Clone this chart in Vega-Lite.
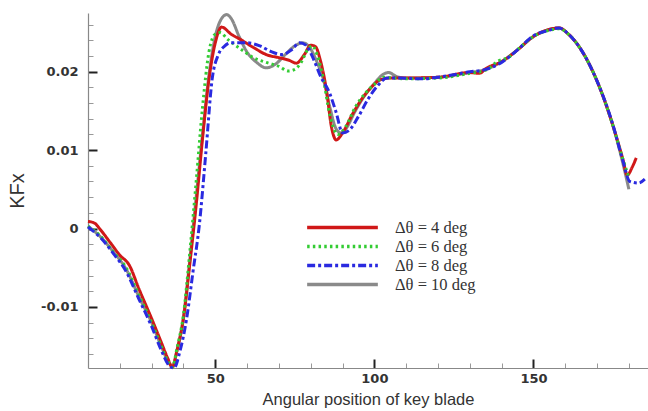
{
  "$schema": "https://vega.github.io/schema/vega-lite/v6.json",
  "width": 560,
  "height": 355,
  "autosize": {"type": "none"},
  "padding": {"left": 88, "top": 13, "right": 0, "bottom": 43},
  "config": {
    "view": {"stroke": null},
    "axis": {
      "grid": false,
      "domainColor": "#888888",
      "domainWidth": 1.2,
      "labelFont": "DejaVu Sans",
      "labelFontWeight": "bold",
      "labelFontSize": 13,
      "labelColor": "#333333",
      "labelOverlap": false,
      "titleFont": "Liberation Sans",
      "titleFontWeight": "normal",
      "titleColor": "#333333"
    }
  },
  "datasets": {
    "kfx": [
      {"case": "Δθ = 4 deg", "angle": 10, "kfx": 0.0009},
      {"case": "Δθ = 4 deg", "angle": 12, "kfx": 0.0007},
      {"case": "Δθ = 4 deg", "angle": 14, "kfx": -0.0002},
      {"case": "Δθ = 4 deg", "angle": 17, "kfx": -0.0018},
      {"case": "Δθ = 4 deg", "angle": 20, "kfx": -0.0034},
      {"case": "Δθ = 4 deg", "angle": 23, "kfx": -0.0047},
      {"case": "Δθ = 4 deg", "angle": 26, "kfx": -0.0077},
      {"case": "Δθ = 4 deg", "angle": 30, "kfx": -0.0115},
      {"case": "Δθ = 4 deg", "angle": 33, "kfx": -0.0145},
      {"case": "Δθ = 4 deg", "angle": 35, "kfx": -0.0165},
      {"case": "Δθ = 4 deg", "angle": 36.5, "kfx": -0.0177},
      {"case": "Δθ = 4 deg", "angle": 38, "kfx": -0.0155},
      {"case": "Δθ = 4 deg", "angle": 40, "kfx": -0.0115},
      {"case": "Δθ = 4 deg", "angle": 42, "kfx": -0.0045},
      {"case": "Δθ = 4 deg", "angle": 44, "kfx": 0.003},
      {"case": "Δθ = 4 deg", "angle": 46, "kfx": 0.0115},
      {"case": "Δθ = 4 deg", "angle": 48, "kfx": 0.019},
      {"case": "Δθ = 4 deg", "angle": 50, "kfx": 0.0237},
      {"case": "Δθ = 4 deg", "angle": 52, "kfx": 0.0257},
      {"case": "Δθ = 4 deg", "angle": 55, "kfx": 0.0248},
      {"case": "Δθ = 4 deg", "angle": 58, "kfx": 0.0241},
      {"case": "Δθ = 4 deg", "angle": 62, "kfx": 0.0231},
      {"case": "Δθ = 4 deg", "angle": 66, "kfx": 0.0222},
      {"case": "Δθ = 4 deg", "angle": 70, "kfx": 0.0218},
      {"case": "Δθ = 4 deg", "angle": 73, "kfx": 0.0215},
      {"case": "Δθ = 4 deg", "angle": 75.5, "kfx": 0.0211},
      {"case": "Δθ = 4 deg", "angle": 78, "kfx": 0.0222},
      {"case": "Δθ = 4 deg", "angle": 80, "kfx": 0.0234},
      {"case": "Δθ = 4 deg", "angle": 81.5, "kfx": 0.0232},
      {"case": "Δθ = 4 deg", "angle": 83, "kfx": 0.0215},
      {"case": "Δθ = 4 deg", "angle": 85, "kfx": 0.0175},
      {"case": "Δθ = 4 deg", "angle": 86.5, "kfx": 0.013},
      {"case": "Δθ = 4 deg", "angle": 88, "kfx": 0.0113},
      {"case": "Δθ = 4 deg", "angle": 90, "kfx": 0.0122},
      {"case": "Δθ = 4 deg", "angle": 93, "kfx": 0.0145},
      {"case": "Δθ = 4 deg", "angle": 96, "kfx": 0.0165},
      {"case": "Δθ = 4 deg", "angle": 99, "kfx": 0.018},
      {"case": "Δθ = 4 deg", "angle": 102, "kfx": 0.019},
      {"case": "Δθ = 4 deg", "angle": 105, "kfx": 0.0192},
      {"case": "Δθ = 4 deg", "angle": 110, "kfx": 0.0192},
      {"case": "Δθ = 4 deg", "angle": 120, "kfx": 0.0193},
      {"case": "Δθ = 4 deg", "angle": 130, "kfx": 0.0199},
      {"case": "Δθ = 4 deg", "angle": 133, "kfx": 0.0198},
      {"case": "Δθ = 4 deg", "angle": 135, "kfx": 0.0204},
      {"case": "Δθ = 4 deg", "angle": 140, "kfx": 0.0213},
      {"case": "Δθ = 4 deg", "angle": 145, "kfx": 0.0228},
      {"case": "Δθ = 4 deg", "angle": 150, "kfx": 0.0245},
      {"case": "Δθ = 4 deg", "angle": 155, "kfx": 0.0254},
      {"case": "Δθ = 4 deg", "angle": 158, "kfx": 0.0256},
      {"case": "Δθ = 4 deg", "angle": 161, "kfx": 0.0248},
      {"case": "Δθ = 4 deg", "angle": 165, "kfx": 0.0228},
      {"case": "Δθ = 4 deg", "angle": 170, "kfx": 0.0188},
      {"case": "Δθ = 4 deg", "angle": 175, "kfx": 0.0131},
      {"case": "Δθ = 4 deg", "angle": 178, "kfx": 0.009},
      {"case": "Δθ = 4 deg", "angle": 179.5, "kfx": 0.0068},
      {"case": "Δθ = 4 deg", "angle": 181, "kfx": 0.0078},
      {"case": "Δθ = 4 deg", "angle": 182.3, "kfx": 0.009},

      {"case": "Δθ = 6 deg", "angle": 10, "kfx": 0.0003},
      {"case": "Δθ = 6 deg", "angle": 14, "kfx": -0.001},
      {"case": "Δθ = 6 deg", "angle": 18, "kfx": -0.003},
      {"case": "Δθ = 6 deg", "angle": 22, "kfx": -0.005},
      {"case": "Δθ = 6 deg", "angle": 26, "kfx": -0.0085},
      {"case": "Δθ = 6 deg", "angle": 30, "kfx": -0.012},
      {"case": "Δθ = 6 deg", "angle": 33, "kfx": -0.015},
      {"case": "Δθ = 6 deg", "angle": 35.5, "kfx": -0.0172},
      {"case": "Δθ = 6 deg", "angle": 36.5, "kfx": -0.0177},
      {"case": "Δθ = 6 deg", "angle": 38, "kfx": -0.0152},
      {"case": "Δθ = 6 deg", "angle": 40, "kfx": -0.011},
      {"case": "Δθ = 6 deg", "angle": 42, "kfx": -0.003},
      {"case": "Δθ = 6 deg", "angle": 44, "kfx": 0.006},
      {"case": "Δθ = 6 deg", "angle": 46, "kfx": 0.0155},
      {"case": "Δθ = 6 deg", "angle": 48, "kfx": 0.0225},
      {"case": "Δθ = 6 deg", "angle": 50, "kfx": 0.0248},
      {"case": "Δθ = 6 deg", "angle": 51.5, "kfx": 0.025},
      {"case": "Δθ = 6 deg", "angle": 54, "kfx": 0.0241},
      {"case": "Δθ = 6 deg", "angle": 58, "kfx": 0.0229},
      {"case": "Δθ = 6 deg", "angle": 62, "kfx": 0.0218},
      {"case": "Δθ = 6 deg", "angle": 66, "kfx": 0.0212},
      {"case": "Δθ = 6 deg", "angle": 70, "kfx": 0.0207},
      {"case": "Δθ = 6 deg", "angle": 73, "kfx": 0.0201},
      {"case": "Δθ = 6 deg", "angle": 75, "kfx": 0.0203},
      {"case": "Δθ = 6 deg", "angle": 77, "kfx": 0.0212},
      {"case": "Δθ = 6 deg", "angle": 79, "kfx": 0.0228},
      {"case": "Δθ = 6 deg", "angle": 80.5, "kfx": 0.0233},
      {"case": "Δθ = 6 deg", "angle": 82, "kfx": 0.0222},
      {"case": "Δθ = 6 deg", "angle": 84, "kfx": 0.019},
      {"case": "Δθ = 6 deg", "angle": 86, "kfx": 0.0145},
      {"case": "Δθ = 6 deg", "angle": 88.5, "kfx": 0.012},
      {"case": "Δθ = 6 deg", "angle": 91, "kfx": 0.013},
      {"case": "Δθ = 6 deg", "angle": 94, "kfx": 0.0155},
      {"case": "Δθ = 6 deg", "angle": 97, "kfx": 0.0172},
      {"case": "Δθ = 6 deg", "angle": 100, "kfx": 0.0184},
      {"case": "Δθ = 6 deg", "angle": 103, "kfx": 0.0193},
      {"case": "Δθ = 6 deg", "angle": 106, "kfx": 0.0192},
      {"case": "Δθ = 6 deg", "angle": 110, "kfx": 0.0191},
      {"case": "Δθ = 6 deg", "angle": 120, "kfx": 0.0192},
      {"case": "Δθ = 6 deg", "angle": 130, "kfx": 0.0198},
      {"case": "Δθ = 6 deg", "angle": 135, "kfx": 0.0202},
      {"case": "Δθ = 6 deg", "angle": 139, "kfx": 0.0214},
      {"case": "Δθ = 6 deg", "angle": 142, "kfx": 0.0218},
      {"case": "Δθ = 6 deg", "angle": 146, "kfx": 0.0232},
      {"case": "Δθ = 6 deg", "angle": 150, "kfx": 0.0245},
      {"case": "Δθ = 6 deg", "angle": 155, "kfx": 0.0253},
      {"case": "Δθ = 6 deg", "angle": 158, "kfx": 0.0255},
      {"case": "Δθ = 6 deg", "angle": 161, "kfx": 0.0248},
      {"case": "Δθ = 6 deg", "angle": 165, "kfx": 0.0228},
      {"case": "Δθ = 6 deg", "angle": 170, "kfx": 0.0188},
      {"case": "Δθ = 6 deg", "angle": 175, "kfx": 0.0131},
      {"case": "Δθ = 6 deg", "angle": 178, "kfx": 0.009},
      {"case": "Δθ = 6 deg", "angle": 180, "kfx": 0.0065},

      {"case": "Δθ = 8 deg", "angle": 10, "kfx": 0.0002},
      {"case": "Δθ = 8 deg", "angle": 14, "kfx": -0.0012},
      {"case": "Δθ = 8 deg", "angle": 18, "kfx": -0.0032},
      {"case": "Δθ = 8 deg", "angle": 22, "kfx": -0.0055},
      {"case": "Δθ = 8 deg", "angle": 26, "kfx": -0.009},
      {"case": "Δθ = 8 deg", "angle": 30, "kfx": -0.0125},
      {"case": "Δθ = 8 deg", "angle": 33, "kfx": -0.0155},
      {"case": "Δθ = 8 deg", "angle": 35.5, "kfx": -0.0175},
      {"case": "Δθ = 8 deg", "angle": 37, "kfx": -0.0178},
      {"case": "Δθ = 8 deg", "angle": 39, "kfx": -0.0155},
      {"case": "Δθ = 8 deg", "angle": 41, "kfx": -0.0115},
      {"case": "Δθ = 8 deg", "angle": 43, "kfx": -0.0055},
      {"case": "Δθ = 8 deg", "angle": 45, "kfx": 0.0005},
      {"case": "Δθ = 8 deg", "angle": 47, "kfx": 0.0095},
      {"case": "Δθ = 8 deg", "angle": 49, "kfx": 0.019},
      {"case": "Δθ = 8 deg", "angle": 51, "kfx": 0.0222},
      {"case": "Δθ = 8 deg", "angle": 53, "kfx": 0.0233},
      {"case": "Δθ = 8 deg", "angle": 55, "kfx": 0.0237},
      {"case": "Δθ = 8 deg", "angle": 60, "kfx": 0.0237},
      {"case": "Δθ = 8 deg", "angle": 64, "kfx": 0.0233},
      {"case": "Δθ = 8 deg", "angle": 68, "kfx": 0.0225},
      {"case": "Δθ = 8 deg", "angle": 71, "kfx": 0.0222},
      {"case": "Δθ = 8 deg", "angle": 74, "kfx": 0.0228},
      {"case": "Δθ = 8 deg", "angle": 76.5, "kfx": 0.0237},
      {"case": "Δθ = 8 deg", "angle": 78.5, "kfx": 0.0234},
      {"case": "Δθ = 8 deg", "angle": 81, "kfx": 0.0215},
      {"case": "Δθ = 8 deg", "angle": 83, "kfx": 0.0195},
      {"case": "Δθ = 8 deg", "angle": 86, "kfx": 0.0172},
      {"case": "Δθ = 8 deg", "angle": 88, "kfx": 0.0148},
      {"case": "Δθ = 8 deg", "angle": 90, "kfx": 0.0122},
      {"case": "Δθ = 8 deg", "angle": 92, "kfx": 0.0125},
      {"case": "Δθ = 8 deg", "angle": 95, "kfx": 0.0143},
      {"case": "Δθ = 8 deg", "angle": 98, "kfx": 0.0165},
      {"case": "Δθ = 8 deg", "angle": 101, "kfx": 0.0182},
      {"case": "Δθ = 8 deg", "angle": 104, "kfx": 0.0192},
      {"case": "Δθ = 8 deg", "angle": 108, "kfx": 0.0192},
      {"case": "Δθ = 8 deg", "angle": 115, "kfx": 0.0191},
      {"case": "Δθ = 8 deg", "angle": 120, "kfx": 0.0193},
      {"case": "Δθ = 8 deg", "angle": 130, "kfx": 0.02},
      {"case": "Δθ = 8 deg", "angle": 135, "kfx": 0.0203},
      {"case": "Δθ = 8 deg", "angle": 140, "kfx": 0.0212},
      {"case": "Δθ = 8 deg", "angle": 145, "kfx": 0.0228},
      {"case": "Δθ = 8 deg", "angle": 150, "kfx": 0.0246},
      {"case": "Δθ = 8 deg", "angle": 155, "kfx": 0.0253},
      {"case": "Δθ = 8 deg", "angle": 158, "kfx": 0.0256},
      {"case": "Δθ = 8 deg", "angle": 161, "kfx": 0.0248},
      {"case": "Δθ = 8 deg", "angle": 165, "kfx": 0.0228},
      {"case": "Δθ = 8 deg", "angle": 170, "kfx": 0.0188},
      {"case": "Δθ = 8 deg", "angle": 175, "kfx": 0.0132},
      {"case": "Δθ = 8 deg", "angle": 178, "kfx": 0.0088},
      {"case": "Δθ = 8 deg", "angle": 180.3, "kfx": 0.006},
      {"case": "Δθ = 8 deg", "angle": 183, "kfx": 0.0058},
      {"case": "Δθ = 8 deg", "angle": 185, "kfx": 0.0063},

      {"case": "Δθ = 10 deg", "angle": 10, "kfx": 0.0003},
      {"case": "Δθ = 10 deg", "angle": 14, "kfx": -0.0011},
      {"case": "Δθ = 10 deg", "angle": 18, "kfx": -0.003},
      {"case": "Δθ = 10 deg", "angle": 22, "kfx": -0.0052},
      {"case": "Δθ = 10 deg", "angle": 26, "kfx": -0.0087},
      {"case": "Δθ = 10 deg", "angle": 30, "kfx": -0.012},
      {"case": "Δθ = 10 deg", "angle": 33, "kfx": -0.015},
      {"case": "Δθ = 10 deg", "angle": 35.5, "kfx": -0.0172},
      {"case": "Δθ = 10 deg", "angle": 36.5, "kfx": -0.0176},
      {"case": "Δθ = 10 deg", "angle": 38, "kfx": -0.0155},
      {"case": "Δθ = 10 deg", "angle": 40, "kfx": -0.0113},
      {"case": "Δθ = 10 deg", "angle": 42, "kfx": -0.004},
      {"case": "Δθ = 10 deg", "angle": 44, "kfx": 0.004},
      {"case": "Δθ = 10 deg", "angle": 46, "kfx": 0.012},
      {"case": "Δθ = 10 deg", "angle": 48, "kfx": 0.0195},
      {"case": "Δθ = 10 deg", "angle": 50, "kfx": 0.0245},
      {"case": "Δθ = 10 deg", "angle": 52, "kfx": 0.0268},
      {"case": "Δθ = 10 deg", "angle": 53.6, "kfx": 0.0273},
      {"case": "Δθ = 10 deg", "angle": 55, "kfx": 0.0268},
      {"case": "Δθ = 10 deg", "angle": 57.5, "kfx": 0.0245},
      {"case": "Δθ = 10 deg", "angle": 60, "kfx": 0.0225},
      {"case": "Δθ = 10 deg", "angle": 63, "kfx": 0.0212},
      {"case": "Δθ = 10 deg", "angle": 66, "kfx": 0.0205},
      {"case": "Δθ = 10 deg", "angle": 69, "kfx": 0.021},
      {"case": "Δθ = 10 deg", "angle": 72, "kfx": 0.0222},
      {"case": "Δθ = 10 deg", "angle": 75, "kfx": 0.0233},
      {"case": "Δθ = 10 deg", "angle": 77.5, "kfx": 0.0237},
      {"case": "Δθ = 10 deg", "angle": 79.5, "kfx": 0.0232},
      {"case": "Δθ = 10 deg", "angle": 82, "kfx": 0.0212},
      {"case": "Δθ = 10 deg", "angle": 84, "kfx": 0.019},
      {"case": "Δθ = 10 deg", "angle": 86, "kfx": 0.0155},
      {"case": "Δθ = 10 deg", "angle": 88, "kfx": 0.0127},
      {"case": "Δθ = 10 deg", "angle": 89.5, "kfx": 0.0122},
      {"case": "Δθ = 10 deg", "angle": 91, "kfx": 0.0127},
      {"case": "Δθ = 10 deg", "angle": 94, "kfx": 0.015},
      {"case": "Δθ = 10 deg", "angle": 97, "kfx": 0.017},
      {"case": "Δθ = 10 deg", "angle": 100, "kfx": 0.0185},
      {"case": "Δθ = 10 deg", "angle": 102.5, "kfx": 0.0196},
      {"case": "Δθ = 10 deg", "angle": 104.5, "kfx": 0.0199},
      {"case": "Δθ = 10 deg", "angle": 107, "kfx": 0.0194},
      {"case": "Δθ = 10 deg", "angle": 110, "kfx": 0.0192},
      {"case": "Δθ = 10 deg", "angle": 120, "kfx": 0.0193},
      {"case": "Δθ = 10 deg", "angle": 130, "kfx": 0.0199},
      {"case": "Δθ = 10 deg", "angle": 135, "kfx": 0.0203},
      {"case": "Δθ = 10 deg", "angle": 140, "kfx": 0.0213},
      {"case": "Δθ = 10 deg", "angle": 145, "kfx": 0.0228},
      {"case": "Δθ = 10 deg", "angle": 150, "kfx": 0.0245},
      {"case": "Δθ = 10 deg", "angle": 155, "kfx": 0.0254},
      {"case": "Δθ = 10 deg", "angle": 158, "kfx": 0.0256},
      {"case": "Δθ = 10 deg", "angle": 161, "kfx": 0.0248},
      {"case": "Δθ = 10 deg", "angle": 165, "kfx": 0.0228},
      {"case": "Δθ = 10 deg", "angle": 170, "kfx": 0.0188},
      {"case": "Δθ = 10 deg", "angle": 175, "kfx": 0.0131},
      {"case": "Δθ = 10 deg", "angle": 178, "kfx": 0.0085},
      {"case": "Δθ = 10 deg", "angle": 180, "kfx": 0.005}
    ]
  },
  "data": {"name": "kfx"},
  "encoding": {
    "x": {
      "field": "angle",
      "type": "quantitative",
      "scale": {"domain": [10, 186], "nice": false, "zero": false},
      "axis": {
        "title": "Angular position of key blade",
        "titleFontSize": 16.5,
        "titlePadding": 2,
        "values": [20, 30, 40, 50, 60, 70, 80, 90, 100, 110, 120, 130, 140, 150, 160, 170, 180],
        "labelExpr": "datum.value % 50 === 0 ? datum.label : ''",
        "labelPadding": 13,
        "tickSize": {"condition": {"test": "datum.value % 50 === 0", "value": -9}, "value": -5},
        "tickColor": {"condition": {"test": "datum.value % 50 === 0", "value": "#222222"}, "value": "#999999"},
        "tickWidth": {"condition": {"test": "datum.value % 50 === 0", "value": 2}, "value": 1}
      }
    },
    "y": {
      "field": "kfx",
      "type": "quantitative",
      "scale": {"domain": [-0.0178, 0.0275], "nice": false, "zero": false},
      "axis": {
        "title": "KFx",
        "titleFontSize": 20,
        "titlePadding": 13,
        "values": [-0.016, -0.014, -0.012, -0.01, -0.008, -0.006, -0.004, -0.002, 0, 0.002, 0.004, 0.006, 0.008, 0.01, 0.012, 0.014, 0.016, 0.018, 0.02, 0.022, 0.024, 0.026],
        "labelExpr": "abs(datum.value*100 - round(datum.value*100)) < 0.001 ? '' + round(datum.value*100)/100 : ''",
        "labelPadding": 19,
        "tickSize": {"condition": {"test": "abs(datum.value*100 - round(datum.value*100)) < 0.001", "value": -9}, "value": -5},
        "tickColor": {"condition": {"test": "abs(datum.value*100 - round(datum.value*100)) < 0.001", "value": "#222222"}, "value": "#999999"},
        "tickWidth": {"condition": {"test": "abs(datum.value*100 - round(datum.value*100)) < 0.001", "value": 2}, "value": 1}
      }
    },
    "color": {
      "field": "case",
      "type": "nominal",
      "scale": {
        "domain": ["Δθ = 4 deg", "Δθ = 6 deg", "Δθ = 8 deg", "Δθ = 10 deg"],
        "range": ["#d01818", "#33cc33", "#2a2ae0", "#8a8a8a"]
      },
      "legend": {
        "title": null,
        "orient": "none",
        "legendX": 217,
        "legendY": 205,
        "symbolType": "stroke",
        "symbolSize": 5000,
        "symbolStrokeWidth": 3.5,
        "clipHeight": 19,
        "rowPadding": 0,
        "labelOffset": 15,
        "labelFont": "Liberation Serif",
        "labelFontSize": 16.5,
        "labelColor": "#333333",
        "padding": 0
      }
    },
    "strokeDash": {
      "field": "case",
      "type": "nominal",
      "scale": {
        "domain": ["Δθ = 4 deg", "Δθ = 6 deg", "Δθ = 8 deg", "Δθ = 10 deg"],
        "range": [[1, 0], [2.5, 3.2], [8, 3, 3, 3], [1, 0]]
      },
      "legend": {
        "title": null,
        "orient": "none",
        "legendX": 217,
        "legendY": 205,
        "symbolType": "stroke",
        "symbolSize": 5000,
        "symbolStrokeWidth": 3.5,
        "clipHeight": 19,
        "rowPadding": 0,
        "labelOffset": 15,
        "labelFont": "Liberation Serif",
        "labelFontSize": 16.5,
        "labelColor": "#333333",
        "padding": 0
      }
    }
  },
  "layer": [
    {"transform": [{"filter": "datum['case'] === 'Δθ = 10 deg'"}], "mark": {"type": "line", "interpolate": "monotone", "strokeWidth": 3}},
    {"transform": [{"filter": "datum['case'] === 'Δθ = 4 deg'"}], "mark": {"type": "line", "interpolate": "monotone", "strokeWidth": 3}},
    {"transform": [{"filter": "datum['case'] === 'Δθ = 6 deg'"}], "mark": {"type": "line", "interpolate": "monotone", "strokeWidth": 3}},
    {"transform": [{"filter": "datum['case'] === 'Δθ = 8 deg'"}], "mark": {"type": "line", "interpolate": "monotone", "strokeWidth": 3}}
  ]
}
